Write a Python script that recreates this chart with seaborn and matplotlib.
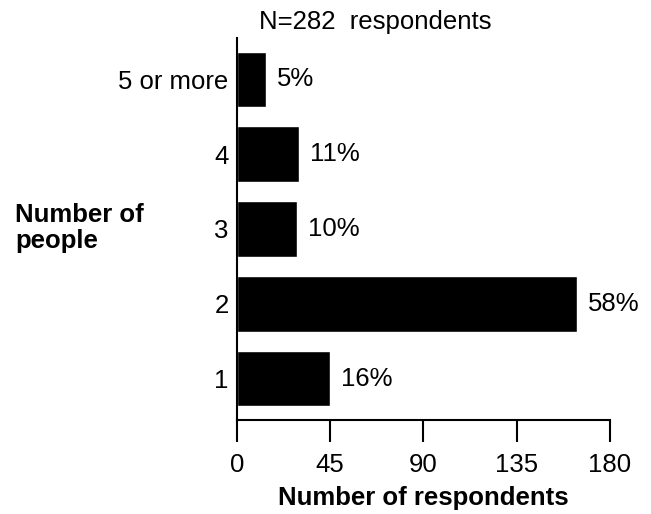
import pandas as pd
import matplotlib.pyplot as plt
import seaborn as sns

sns.set_style("ticks")
plt.rcParams['font.family'] = ['Liberation Sans', 'DejaVu Sans']
plt.rcParams['text.color'] = 'black'
plt.rcParams['axes.labelcolor'] = 'black'
plt.rcParams['xtick.color'] = 'black'
plt.rcParams['ytick.color'] = 'black'

people = ["5 or more", "4", "3", "2", "1"]
respondents = [14, 30, 29, 164, 45]
pct_labels = ["5%", "11%", "10%", "58%", "16%"]
xticks = [0, 45, 90, 135, 180]

df = pd.DataFrame({"people": people, "respondents": respondents})

fs = 18.5
fig = plt.figure(figsize=(6.51, 5.14), dpi=100)
ax = fig.add_axes([0.364, 0.183, 0.573, 0.743])

sns.barplot(data=df, x="respondents", y="people", order=people,
            color="black", saturation=1, width=0.74, ax=ax)

ax.bar_label(ax.containers[0], labels=pct_labels, padding=8, fontsize=fs)

ax.set_xlim(0, 180)
ax.set_ylim(4.55, -0.55)
ax.set_xticks(xticks)
ax.tick_params(axis="x", length=16, width=1.5, labelsize=fs, pad=8)
ax.tick_params(axis="y", length=0, labelsize=fs, pad=6)
sns.despine(ax=ax)
for s in ["left", "bottom"]:
    ax.spines[s].set_linewidth(1.5)
    ax.spines[s].set_color("black")

ax.set_xlabel("Number of respondents", fontsize=fs, fontweight="bold", labelpad=6)
ax.set_ylabel("")

fig.text(0.023, 0.556, "Number of\npeople", fontsize=fs, fontweight="bold",
         ha="left", va="center", linespacing=1.1)
fig.text(0.576, 0.957, "N=282  respondents", fontsize=fs, ha="center", va="center")

fig.savefig("out.png", dpi=100)
